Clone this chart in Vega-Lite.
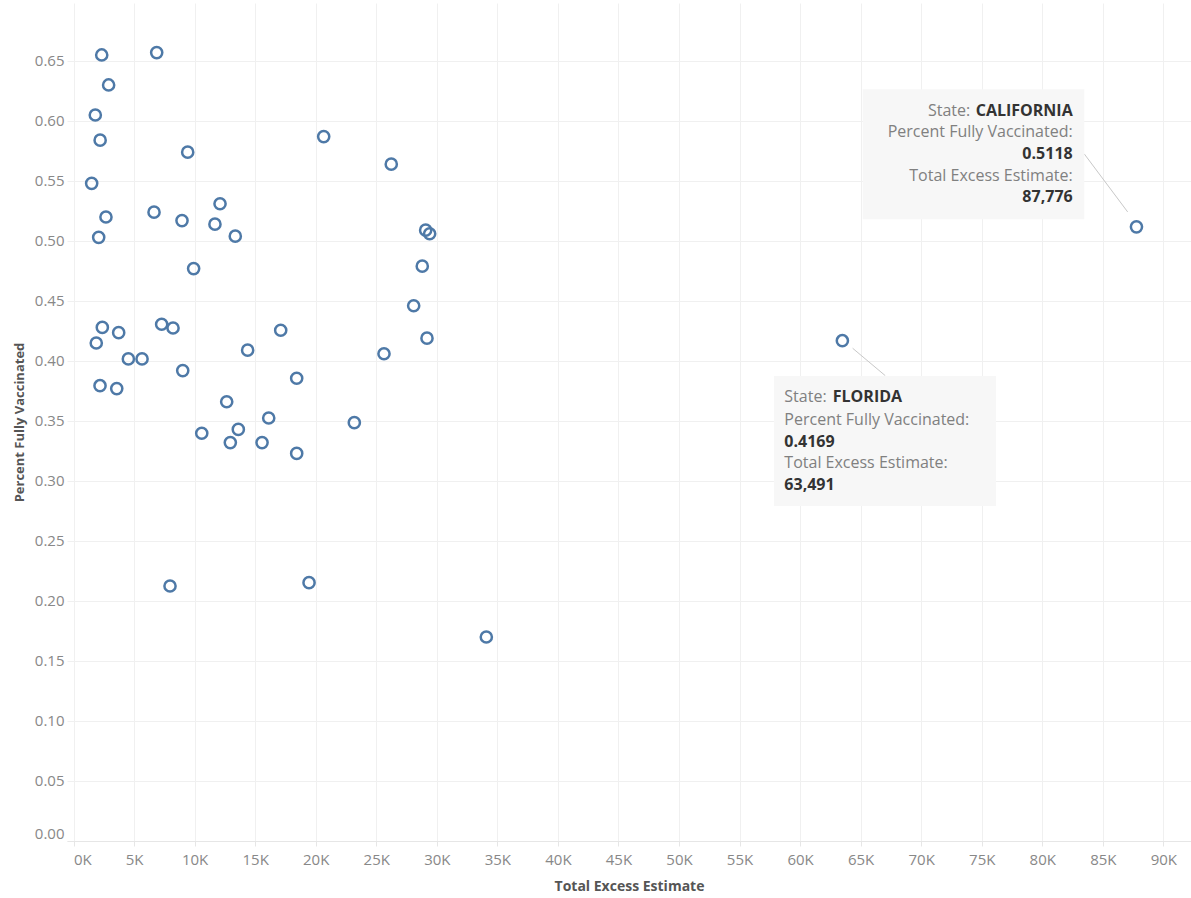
{
  "$schema": "https://vega.github.io/schema/vega-lite/v6.json",
  "width": 1124,
  "height": 838,
  "autosize": {"type": "none"},
  "padding": {"left": 67, "top": 3, "right": 0, "bottom": 57},
  "background": "white",
  "config": {"view": {"stroke": null}, "font": "Open Sans"},
  "datasets": {
    "points": [
      {"state": "", "excess": 2330, "vax": 0.655},
      {"state": "", "excess": 6870, "vax": 0.657},
      {"state": "", "excess": 2900, "vax": 0.630},
      {"state": "", "excess": 1800, "vax": 0.605},
      {"state": "", "excess": 2200, "vax": 0.584},
      {"state": "", "excess": 9430, "vax": 0.574},
      {"state": "", "excess": 1500, "vax": 0.548},
      {"state": "", "excess": 12100, "vax": 0.531},
      {"state": "", "excess": 6650, "vax": 0.524},
      {"state": "", "excess": 2680, "vax": 0.520},
      {"state": "", "excess": 8960, "vax": 0.517},
      {"state": "", "excess": 11680, "vax": 0.514},
      {"state": "", "excess": 2080, "vax": 0.503},
      {"state": "", "excess": 13360, "vax": 0.504},
      {"state": "", "excess": 9920, "vax": 0.477},
      {"state": "", "excess": 20660, "vax": 0.587},
      {"state": "", "excess": 26240, "vax": 0.564},
      {"state": "", "excess": 29080, "vax": 0.509},
      {"state": "", "excess": 29410, "vax": 0.506},
      {"state": "", "excess": 28800, "vax": 0.479},
      {"state": "", "excess": 28090, "vax": 0.446},
      {"state": "", "excess": 29190, "vax": 0.419},
      {"state": "", "excess": 25640, "vax": 0.406},
      {"state": "", "excess": 17110, "vax": 0.4256},
      {"state": "", "excess": 14380, "vax": 0.409},
      {"state": "", "excess": 18430, "vax": 0.3856},
      {"state": "", "excess": 12650, "vax": 0.366},
      {"state": "", "excess": 16120, "vax": 0.3525},
      {"state": "", "excess": 23190, "vax": 0.3486},
      {"state": "", "excess": 13610, "vax": 0.343},
      {"state": "", "excess": 10590, "vax": 0.3398},
      {"state": "", "excess": 12950, "vax": 0.332},
      {"state": "", "excess": 15570, "vax": 0.332},
      {"state": "", "excess": 18430, "vax": 0.323},
      {"state": "", "excess": 2380, "vax": 0.428},
      {"state": "", "excess": 3730, "vax": 0.4236},
      {"state": "", "excess": 1880, "vax": 0.415},
      {"state": "", "excess": 7280, "vax": 0.4306},
      {"state": "", "excess": 8220, "vax": 0.4275},
      {"state": "", "excess": 4530, "vax": 0.4017},
      {"state": "", "excess": 5660, "vax": 0.4017},
      {"state": "", "excess": 9020, "vax": 0.392},
      {"state": "", "excess": 2190, "vax": 0.3794},
      {"state": "", "excess": 3570, "vax": 0.377},
      {"state": "", "excess": 7970, "vax": 0.2125},
      {"state": "", "excess": 19450, "vax": 0.2153},
      {"state": "", "excess": 34090, "vax": 0.170},
      {"state": "FLORIDA", "excess": 63491, "vax": 0.4169},
      {"state": "CALIFORNIA", "excess": 87776, "vax": 0.5118}
    ],
    "boxes": [
      {"tip": "CA", "x1": 65170, "x2": 83470, "y1": 0.6264, "y2": 0.518},
      {"tip": "FL", "x1": 57840, "x2": 76180, "y1": 0.3875, "y2": 0.2792}
    ],
    "leaders": [
      {"tip": "CA", "x1": 83470, "y1": 0.5725, "x2": 87050, "y2": 0.5242},
      {"tip": "FL", "x1": 64340, "y1": 0.4106, "x2": 67030, "y2": 0.3878}
    ],
    "notes": [
      {"tip": "CA", "role": "label", "x": 74050, "y": 0.6084, "t": "State:"},
      {"tip": "CA", "role": "value", "x": 82510, "y": 0.6084, "t": "CALIFORNIA"},
      {"tip": "CA", "role": "label", "x": 82510, "y": 0.5906, "t": "Percent Fully Vaccinated:"},
      {"tip": "CA", "role": "value", "x": 82510, "y": 0.5725, "t": "0.5118"},
      {"tip": "CA", "role": "label", "x": 82510, "y": 0.5544, "t": "Total Excess Estimate:"},
      {"tip": "CA", "role": "value", "x": 82510, "y": 0.5364, "t": "87,776"},
      {"tip": "FL", "role": "label", "x": 58700, "y": 0.3698, "t": "State:"},
      {"tip": "FL", "role": "value", "x": 62700, "y": 0.3698, "t": "FLORIDA"},
      {"tip": "FL", "role": "label", "x": 58700, "y": 0.3506, "t": "Percent Fully Vaccinated:"},
      {"tip": "FL", "role": "value", "x": 58700, "y": 0.3328, "t": "0.4169"},
      {"tip": "FL", "role": "label", "x": 58700, "y": 0.3148, "t": "Total Excess Estimate:"},
      {"tip": "FL", "role": "value", "x": 58700, "y": 0.2967, "t": "63,491"}
    ]
  },
  "layer": [
    {
      "data": {"name": "points"},
      "mark": {"type": "point", "shape": "circle", "filled": false, "size": 125, "strokeWidth": 2.5, "color": "#4e79a7", "opacity": 1},
      "encoding": {
        "x": {
          "field": "excess", "type": "quantitative", "title": "Total Excess Estimate",
          "scale": {"domain": [-537, 92280], "nice": false, "zero": false},
          "axis": {
            "values": [0, 5000, 10000, 15000, 20000, 25000, 30000, 35000, 40000, 45000, 50000, 55000, 60000, 65000, 70000, 75000, 80000, 85000, 90000],
            "labelExpr": "format(datum.value / 1000, 'd') + 'K'",
            "labelAlign": {"condition": {"test": "datum.value == 0", "value": "left"}, "value": "center"},
            "labelColor": "#888888", "labelFontSize": 15, "labelPadding": 6,
            "tickColor": "#e6e6e6", "tickSize": 5, "domainColor": "#e6e6e6",
            "grid": true, "gridColor": "#f0f0f0",
            "titleColor": "#555555", "titleFontSize": 14, "titleFontWeight": "bold", "titlePadding": 12
          }
        },
        "y": {
          "field": "vax", "type": "quantitative", "title": "Percent Fully Vaccinated",
          "scale": {"domain": [0, 0.6983], "nice": false, "zero": false},
          "axis": {
            "values": [0, 0.05, 0.1, 0.15, 0.2, 0.25, 0.3, 0.35, 0.4, 0.45, 0.5, 0.55, 0.6, 0.65],
            "format": ".2f", "labelFlush": true,
            "labelColor": "#888888", "labelFontSize": 15, "labelPadding": 3,
            "ticks": false, "domain": false,
            "grid": true, "gridColor": "#f0f0f0",
            "titleColor": "#555555", "titleFontSize": 13, "titleFontWeight": "bold", "titlePadding": 8
          }
        }
      }
    },
    {
      "data": {"name": "leaders"},
      "mark": {"type": "rule", "color": "#c8c8c8", "strokeWidth": 1},
      "encoding": {
        "x": {"field": "x1", "type": "quantitative", "title": "Total Excess Estimate"},
        "y": {"field": "y1", "type": "quantitative", "title": "Percent Fully Vaccinated"},
        "x2": {"field": "x2"},
        "y2": {"field": "y2"}
      }
    },
    {
      "data": {"name": "boxes"},
      "mark": {"type": "rect", "color": "#f7f7f7", "opacity": 1},
      "encoding": {
        "x": {"field": "x1", "type": "quantitative", "title": "Total Excess Estimate"},
        "y": {"field": "y1", "type": "quantitative", "title": "Percent Fully Vaccinated"},
        "x2": {"field": "x2"},
        "y2": {"field": "y2"}
      }
    },
    {
      "data": {"name": "notes"},
      "transform": [{"filter": "datum.tip == 'CA' && datum.role == 'label'"}],
      "mark": {"type": "text", "align": "right", "baseline": "middle", "fontSize": 16, "color": "#808080"},
      "encoding": {
        "x": {"field": "x", "type": "quantitative", "title": "Total Excess Estimate"},
        "y": {"field": "y", "type": "quantitative", "title": "Percent Fully Vaccinated"},
        "text": {"field": "t"}
      }
    },
    {
      "data": {"name": "notes"},
      "transform": [{"filter": "datum.tip == 'CA' && datum.role == 'value'"}],
      "mark": {"type": "text", "align": "right", "baseline": "middle", "fontSize": 16, "fontWeight": "bold", "color": "#333333"},
      "encoding": {
        "x": {"field": "x", "type": "quantitative", "title": "Total Excess Estimate"},
        "y": {"field": "y", "type": "quantitative", "title": "Percent Fully Vaccinated"},
        "text": {"field": "t"}
      }
    },
    {
      "data": {"name": "notes"},
      "transform": [{"filter": "datum.tip == 'FL' && datum.role == 'label'"}],
      "mark": {"type": "text", "align": "left", "baseline": "middle", "fontSize": 16, "color": "#808080"},
      "encoding": {
        "x": {"field": "x", "type": "quantitative", "title": "Total Excess Estimate"},
        "y": {"field": "y", "type": "quantitative", "title": "Percent Fully Vaccinated"},
        "text": {"field": "t"}
      }
    },
    {
      "data": {"name": "notes"},
      "transform": [{"filter": "datum.tip == 'FL' && datum.role == 'value'"}],
      "mark": {"type": "text", "align": "left", "baseline": "middle", "fontSize": 16, "fontWeight": "bold", "color": "#333333"},
      "encoding": {
        "x": {"field": "x", "type": "quantitative", "title": "Total Excess Estimate"},
        "y": {"field": "y", "type": "quantitative", "title": "Percent Fully Vaccinated"},
        "text": {"field": "t"}
      }
    }
  ]
}
